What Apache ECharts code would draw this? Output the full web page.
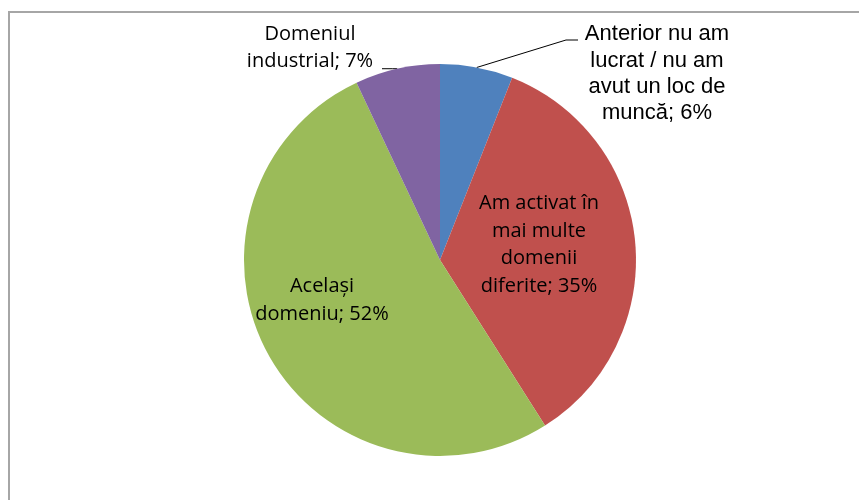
<!DOCTYPE html>
<html>
<head>
<meta charset="utf-8">
<script src="https://cdn.jsdelivr.net/npm/echarts@6/dist/echarts.min.js"></script>
<style>
  html, body { margin: 0; padding: 0; background: #fff; }
  #wrap { position: relative; width: 859px; height: 500px; overflow: hidden; }
  #frame { position: absolute; left: 8px; top: 11px; width: 900px; height: 600px;
           border-top: 2px solid #a6a6a6; border-left: 2px solid #a6a6a6; }
  #chart { position: absolute; left: 0; top: 0; width: 859px; height: 500px; }
</style>
</head>
<body>
<div id="wrap">
  <div id="frame"></div>
  <div id="chart"></div>
</div>
<script>
// date
const categories = [
  'Anterior nu am\nlucrat / nu am\navut un loc de\nmuncă',
  'Am activat în\nmai multe\ndomenii\ndiferite',
  'Același\ndomeniu',
  'Domeniul\nindustrial'
];
const shares = [6, 35, 52, 7];
const colors = ['#4F81BD', '#C0504D', '#9BBB59', '#8064A2'];

// pozitia etichetelor (centru sus)
const labelBox = [
  {x: 657, y: 21, font: 'Liberation Sans', size: 22, lh: 26.3, outside: true},
  {x: 539, y: 190, font: 'Open Sans', size: 20, lh: 27.5},
  {x: 322, y: 272, font: 'Open Sans', size: 20, lh: 28.4},
  {x: 310, y: 21, font: 'Open Sans', size: 20, lh: 27, outside: true}
];

const chart = echarts.init(document.getElementById('chart'));

chart.setOption({
  animation: false,
  series: [
    {
      type: 'pie',
      center: [440, 260],
      radius: 196,
      startAngle: 90,
      clockwise: true,
      avoidLabelOverlap: false,
      itemStyle: {borderWidth: 0},
      data: shares.map((v, i) => ({
        name: categories[i],
        value: v,
        itemStyle: {color: colors[i]},
        label: {
          position: labelBox[i].outside ? 'outside' : 'inside',
          fontFamily: labelBox[i].font,
          fontSize: labelBox[i].size,
          lineHeight: labelBox[i].lh
        },
        labelLine: {show: !!labelBox[i].outside}
      })),
      label: {
        color: '#000',
        formatter: (p) => p.name + '; ' + p.value + '%'
      },
      labelLine: {
        lineStyle: {color: '#000', width: 1}
      },
      labelLayout: function (params) {
        const b = labelBox[params.dataIndex];
        const res = {x: b.x, y: b.y, align: 'center', verticalAlign: 'top'};
        const pts = params.labelLinePoints;
        if (b.outside && pts) {
          const p0 = pts[0];
          if (params.dataIndex === 0) {
            res.labelLinePoints = [p0, [566, 40], [578, 40]];
          } else {
            res.labelLinePoints = [p0, [p0[0] - 5, p0[1]], [382, p0[1]]];
          }
        }
        return res;
      }
    }
  ]
});
</script>
</body>
</html>
